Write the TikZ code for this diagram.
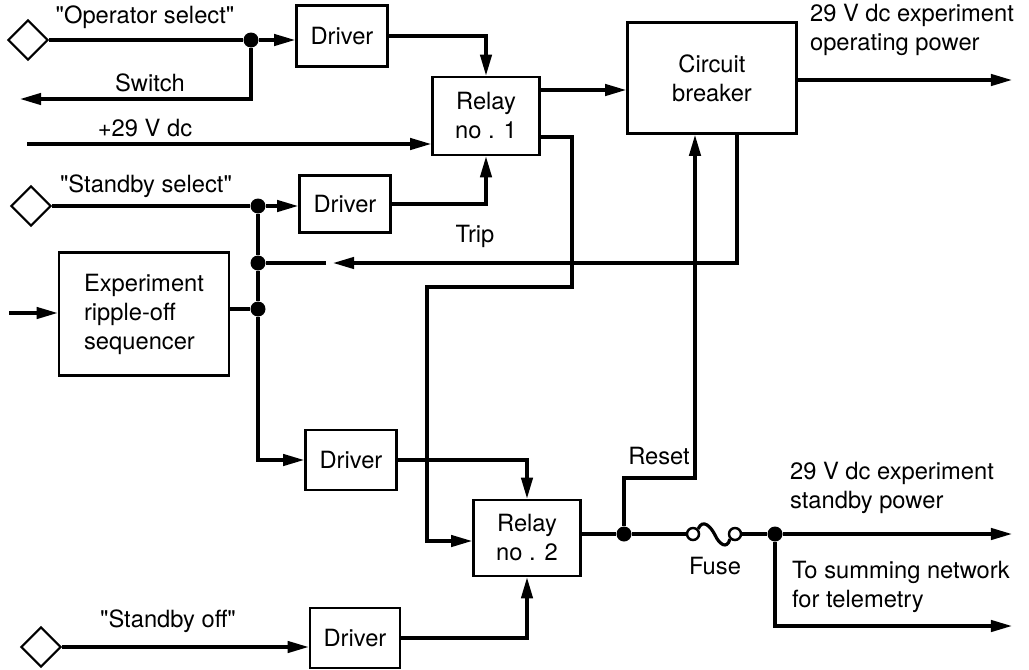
\documentclass[tikz,border=0pt]{standalone}
\usepackage{fontspec}
\setmainfont{TeX Gyre Heros}
\newfontfamily\plainhv{TeX Gyre Heros}
\usetikzlibrary{arrows.meta,shapes.geometric}
\newcommand{\dq}{{\plainhv"}}
\begin{document}
\begin{tikzpicture}[x=0.02cm,y=-0.02cm,
  every node/.style={font=\fontsize{13.5}{16.5}\selectfont},
  blk/.style={draw,line width=1.5pt,inner sep=0pt,align=center},
  wire/.style={line width=1.8pt},
  arr/.style={wire,-{Triangle[length=12pt,width=6.5pt]}},
  dot/.style={circle,fill,inner sep=0pt,minimum size=0.3cm},
  term/.style={diamond,draw,line width=1.2pt,inner sep=0pt,minimum width=0.8cm,minimum height=0.8cm},
  fusec/.style={circle,draw,line width=1.4pt,inner sep=0pt,minimum size=0.24cm},
  lbl/.style={inner sep=1pt}]
\useasboundingbox (0,0) rectangle (1029,670);
% terminals
\node[term] (d1) at (28,40) {};
\node[term] (d2) at (31,206) {};
\node[term] (d3) at (41,647) {};
% blocks
\node[blk,minimum width=1.82cm,minimum height=1.22cm] (drv1) at (342,36) {Driver};
\node[blk,minimum width=2.14cm,minimum height=1.56cm] (rel1) at (486,116) {Relay\\no . 1};
\node[blk,minimum width=3.38cm,minimum height=2.22cm] (cb) at (712,78) {Circuit\\breaker};
\node[blk,minimum width=1.82cm,minimum height=1.14cm] (drv2) at (345,204) {Driver};
\node[blk,align=left,minimum width=3.4cm,minimum height=2.46cm] (seq) at (144,314) {Experiment\\ripple-off\\sequencer};
\node[blk,minimum width=1.82cm,minimum height=1.2cm] (drv3) at (351,460) {Driver};
\node[blk,minimum width=2.14cm,minimum height=1.52cm] (rel2) at (527,538) {Relay\\no . 2};
\node[blk,minimum width=1.8cm,minimum height=1.2cm] (drv4) at (355,638) {Driver};
% junctions
\node[dot] (j1) at (251,40) {};
\node[dot] (j2) at (258,206) {};
\node[dot] (j3) at (258,263) {};
\node[dot] (j4) at (258,309) {};
\node[dot] (j5) at (624,534) {};
\node[dot] (j6) at (775,534) {};
\node[fusec] (fl) at (693,534) {};
\node[fusec] (fr) at (735,534) {};
% free ends and bends
\coordinate (swend) at (20,99);
\coordinate (vin) at (27,144);
\coordinate (y90) at (0,90);
\coordinate (opout) at (1012,80);
\coordinate (seqin) at (9,313);
\coordinate (tripx) at (737,263);
\coordinate (trip1) at (333,263);
\coordinate (trip2) at (326,263);
\coordinate (r1a) at (572,137);
\coordinate (r1b) at (572,287);
\coordinate (r1c) at (427,287);
\coordinate (r1d) at (427,541);
\coordinate (rs1) at (624,478);
\coordinate (rs2) at (695,478);
\coordinate (sbout) at (1012,534);
\coordinate (telout) at (1012,626);
% connectors
\draw[wire] (d1.east) -- (j1);
\draw[arr] (j1) -- (drv1.west |- j1);
\draw[arr] (j1) |- (swend);
\draw[arr] (vin) -- (rel1.west |- vin);
\draw[arr] (drv1.east) -| (rel1.north);
\draw[arr] (rel1.east |- y90) -- (cb.west |- y90);
\draw[arr] (cb.east |- opout) -- (opout);
\draw[arr] (rel1.east |- r1a) -- (r1a) -- (r1b) -- (r1c) -- (r1d) -- (rel2.west |- r1d);
\draw[arr] (drv2.east) -| (rel1.south);
\draw[wire] (d2.east) -- (j2);
\draw[arr] (j2) -- (drv2.west |- j2);
\draw[wire] (j2) -- (j3) -- (j4);
\draw[arr] (j4) |- (drv3.west);
\draw[wire] (seq.east |- j4) -- (j4);
\draw[arr] (seqin) -- (seq.west |- seqin);
\draw[arr] (cb.south -| tripx) -- (tripx) -- (trip1);
\draw[wire] (trip2) -- (j3);
\draw[arr] (drv3.east) -| (rel2.north);
\draw[arr] (drv4.east) -| (rel2.south);
\draw[arr] (d3.east) -- (drv4.west |- d3.east);
\draw[wire] (rel2.east |- j5) -- (j5) -- (fl);
\draw[wire] (fl.45) .. controls (703,518) and (711,527) .. (715,535) .. controls (719,544) and (727,550) .. (fr.225);
\draw[wire] (fr) -- (j6);
\draw[arr] (j6) -- (sbout);
\draw[arr] (j6) |- (telout);
\draw[arr] (j5) -- (rs1) -- (rs2) -- (rs2 |- cb.south);
% labels
\node[lbl] (t1) at (145,17) {\dq Operator select\dq};
\node[lbl] (t2) at (150,83) {Switch};
\node[lbl] (t3) at (145,128) {+29 V dc};
\node[lbl] (t4) at (146,186) {\dq Standby select\dq};
\node[lbl] (t5) at (475,236) {Trip};
\node[lbl] (t6) at (168,621) {\dq Standby off\dq};
\node[lbl] (t7) at (659,456) {Reset};
\node[lbl] (t8) at (715,566) {Fuse};
\node[lbl,anchor=west,align=left] (t9) at (808,30) {29 V dc experiment\\operating power};
\node[lbl,anchor=west,align=left] (t10) at (788,488) {29 V dc experiment\\standby power};
\node[lbl,anchor=west,align=left] (t11) at (790,587) {To summing network\\for telemetry};
\end{tikzpicture}
\end{document}
